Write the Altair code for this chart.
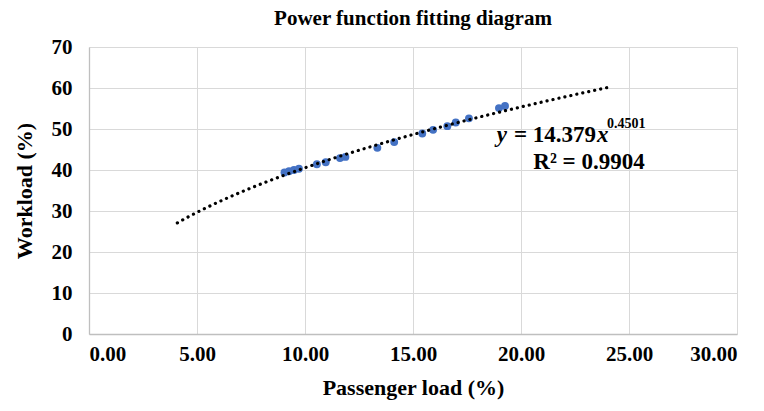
import altair as alt
import pandas as pd

# Data
passenger_load = [9.05, 9.26, 9.49, 9.72, 10.55, 10.96, 11.62, 11.87, 13.35, 14.13,
                  15.43, 15.93, 16.59, 16.98, 17.59, 18.98, 19.26]
workload = [39.4, 39.7, 40.0, 40.3, 41.4, 41.9, 42.9, 43.2, 45.4, 46.8,
            48.9, 49.8, 50.7, 51.6, 52.6, 55.1, 55.6]

# Power trendline as printed on the chart: y = 14.379 x^0.4501
coef_a = 14.379
coef_b = 0.4501
trend_start = 4.09
trend_end = 24.09

x_ticks = [0, 5, 10, 15, 20, 25, 30]
y_ticks = [0, 10, 20, 30, 40, 50, 60, 70]

df = pd.DataFrame({"load": passenger_load, "workload": workload})

FONT = "Liberation Serif"

x_scale = alt.Scale(domain=[0, 30], nice=False)
y_scale = alt.Scale(domain=[0, 70], nice=False)

x_enc = alt.X("load:Q", scale=x_scale,
              axis=alt.Axis(values=x_ticks, format=".2f", title="Passenger load (%)"))
y_enc = alt.Y("workload:Q", scale=y_scale,
              axis=alt.Axis(values=y_ticks, format="d", title="Workload (%)"))

points = alt.Chart(df).mark_circle(size=62, color="#4472C4", opacity=1).encode(
    x=x_enc, y=y_enc
)

trend = alt.Chart(alt.sequence(trend_start, trend_end + 0.001, 0.05, as_="load")).transform_calculate(
    workload=f"{coef_a} * pow(datum.load, {coef_b})"
).mark_line(color="black", strokeDash=[0.1, 6], strokeCap="round", strokeWidth=3.2).encode(
    x=alt.X("load:Q", scale=x_scale), y=alt.Y("workload:Q", scale=y_scale)
)

def label(txt, px, py, size=23, style="normal", baseline="alphabetic", align="left"):
    return alt.Chart(pd.DataFrame({"t": [txt]})).mark_text(
        font=FONT, fontSize=size, fontWeight="bold", fontStyle=style,
        align=align, baseline=baseline, color="black"
    ).encode(text="t:N", x=alt.value(px), y=alt.value(py))

eq = (
    label("y", 418, 95, style="italic", align="right")
    + label("= 14.379", 507, 95, align="right")
    + label("x", 508, 95, style="italic")
    + label("0.4501", 518, 81, size=14)
    + label("R² = 0.9904", 500, 122, align="center")
)

chart = alt.layer(points, trend, eq).properties(
    width=648, height=287,
    title=alt.TitleParams("Power function fitting diagram", font=FONT, fontSize=21,
                          fontWeight="bold", color="black", anchor="middle", offset=7),
    autosize=alt.AutoSizeParams(type="none"),
    padding={"left": 81, "top": 39, "right": 19, "bottom": 70},
).configure_view(stroke=None).configure_axis(
    labelFont=FONT, labelFontSize=21, labelFontWeight="bold", labelColor="black",
    titleFont=FONT, titleFontSize=22, titleFontWeight="bold", titleColor="black",
    gridColor="#D9D9D9", gridWidth=1, domainColor="#BFBFBF", domainWidth=1.3,
    ticks=False,
).configure_axisX(labelPadding=9, titlePadding=13).configure_axisY(
    labelPadding=17, titlePadding=15
)

chart.save("out.html", embed_options={"renderer": "svg", "actions": False})
